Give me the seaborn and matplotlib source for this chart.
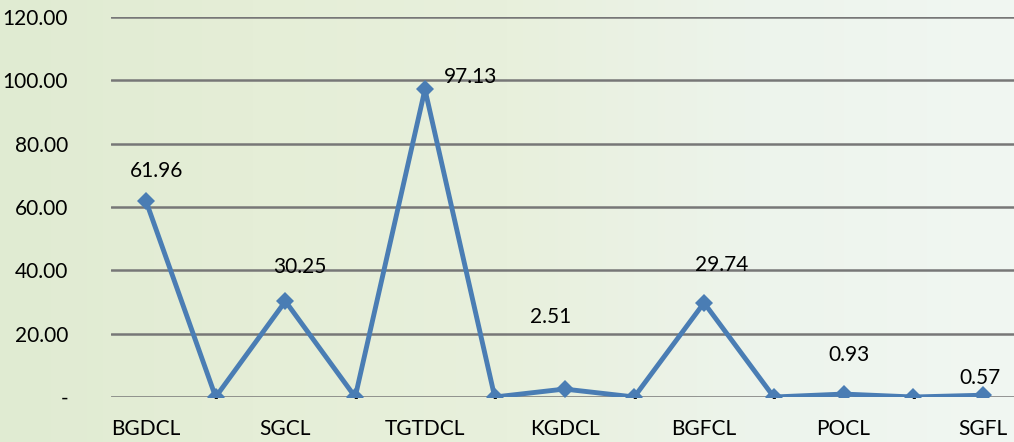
# Line chart of company values (recreated)
import numpy as np
import pandas as pd
import matplotlib
matplotlib.use("Agg")
import matplotlib.pyplot as plt
from matplotlib.colors import LinearSegmentedColormap
import seaborn as sns

# Data
companies = ["BGDCL", "", "SGCL", "", "TGTDCL", "", "KGDCL", "", "BGFCL", "", "POCL", "", "SGFL"]
values = [61.96, 0, 30.25, 0, 97.13, 0, 2.51, 0, 29.74, 0, 0.93, 0, 0.57]
yticks = [0, 20, 40, 60, 80, 100, 120]
ytick_labels = ["-", "20.00", "40.00", "60.00", "80.00", "100.00", "120.00"]

# label offsets in pixels (placement only)
label_offsets = [(11, 30), (0, -2), (14, 34), (0, -2), (46, 12), (0, -2), (-14, 72),
                 (0, -2), (18, 38), (0, -2), (5, 39), (0, -2), (-3, 17)]

df = pd.DataFrame({"pos": np.arange(len(values)), "value": values})

sns.set_style("white")
plt.rcParams["font.family"] = ["Lato", "DejaVu Sans"]

fig = plt.figure(figsize=(10.14, 4.42), dpi=100)

# background gradient
bg = fig.add_axes([0, 0, 1, 1], zorder=-10)
cmap = LinearSegmentedColormap.from_list("bg", ["#e0ebd2", "#e5eed7", "#e8f0dc", "#edf4ec", "#f1f7f2"])
grad = np.tile(np.linspace(0, 1, 256), (32, 1))
bg.imshow(grad, aspect="auto", cmap=cmap, extent=[0, 1, 0, 1])
bg.axis("off")

ax = fig.add_axes([111 / 1014, 45 / 442, 907 / 1014, 380 / 442])
ax.patch.set_alpha(0)

sns.lineplot(data=df, x="pos", y="value", ax=ax, color="#4a7db4", linewidth=3.5,
             marker="D", markersize=9, markeredgewidth=0)

ax.set_xlim(-0.5, len(values) - 0.5)
ax.set_ylim(0, 120)
ax.set_yticks(yticks)
ax.set_yticklabels(ytick_labels, fontsize=15)
ax.set_xticks(df["pos"])
ax.set_xticklabels(companies, fontsize=15)
ax.tick_params(axis="both", length=0, colors="#000000")
ax.tick_params(axis="y", pad=31)
ax.tick_params(axis="x", pad=16)
ax.set_xlabel("")
ax.set_ylabel("")
ax.grid(axis="y", color="#777777", linewidth=1.8)
ax.set_axisbelow(True)
for s in ax.spines.values():
    s.set_visible(False)

# data labels
for i, v in enumerate(values):
    txt = f"{v:.2f}" if v != 0 else "-"
    dx, dy = label_offsets[i]
    ax.annotate(txt, (i, v), xytext=(dx, dy), textcoords="offset pixels",
                ha="center", va="center", fontsize=15 if v != 0 else 9,
                color="#000000", annotation_clip=False)

fig.savefig("out.png", dpi=100)
